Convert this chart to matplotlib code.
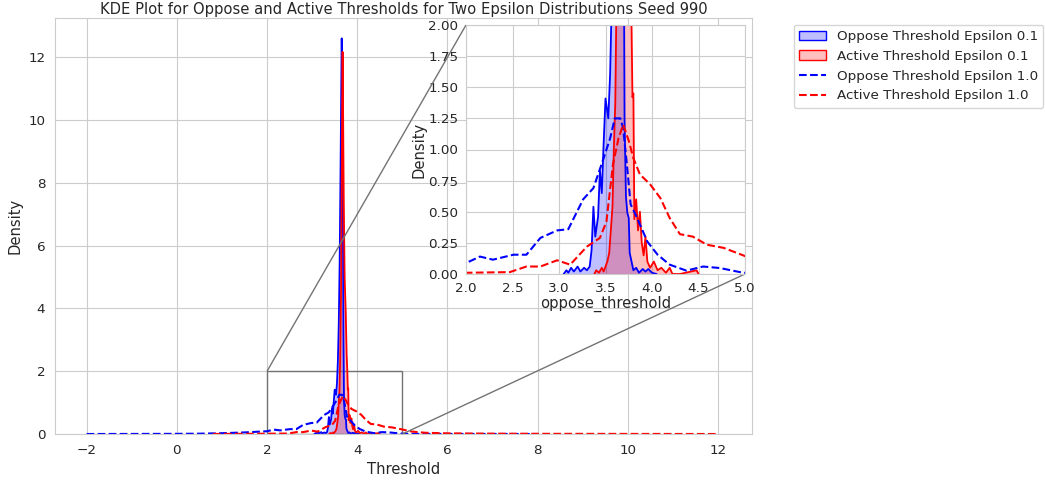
import matplotlib
matplotlib.use("Agg")
import matplotlib.pyplot as plt
import seaborn as sns
from matplotlib.patches import Patch
from matplotlib.lines import Line2D
from mpl_toolkits.axes_grid1.inset_locator import mark_inset

sns.set_style("whitegrid")
plt.rcParams['font.family'] = ['DejaVu Sans']

# ---- data ----
# Oppose threshold, epsilon 0.1 (solid, filled)
opp01_x = [3.05, 3.08, 3.10, 3.13, 3.16, 3.20, 3.23, 3.27, 3.30, 3.33, 3.35, 3.37,
           3.39, 3.42, 3.44, 3.46, 3.48, 3.50, 3.53, 3.55, 3.57, 3.59, 3.61, 3.63,
           3.645, 3.655, 3.665, 3.675, 3.685, 3.695, 3.705, 3.72, 3.735, 3.75,
           3.76, 3.78, 3.80, 3.83, 3.86, 3.90, 3.93, 3.96, 4.00, 4.05]
opp01_y = [0.0, 0.03, 0.01, 0.05, 0.02, 0.06, 0.02, 0.05, 0.03, 0.06, 0.19, 0.54,
           0.30, 0.46, 0.83, 0.65, 1.05, 1.41, 1.25, 1.61, 2.3, 3.5, 5.5, 8.5,
           11.0, 12.6, 11.5, 9.0, 6.0, 3.0, 1.24, 0.62, 0.49, 0.45, 0.17,
           0.10, 0.03, 0.05, 0.01, 0.04, 0.02, 0.04, 0.01, 0.0]

# Active threshold, epsilon 0.1 (solid, filled)
act01_x = [3.38, 3.40, 3.43, 3.46, 3.48, 3.50, 3.52, 3.54, 3.56, 3.575, 3.59, 3.605,
           3.62, 3.64, 3.655, 3.665, 3.675, 3.685, 3.70, 3.72, 3.745, 3.765, 3.78,
           3.79, 3.80, 3.81, 3.83, 3.85, 3.87, 3.89, 3.91, 3.93, 3.95, 3.98, 4.02,
           4.06, 4.10, 4.15, 4.19, 4.22, 4.30, 4.48, 4.50]
act01_y = [0.0, 0.03, 0.01, 0.05, 0.02, 0.06, 0.10, 0.17, 0.38, 0.54, 1.02, 1.37,
           2.3, 4.5, 8.0, 10.5, 12.17, 10.5, 7.5, 5.0, 3.85, 2.5, 2.0,
           1.42, 1.45, 0.44, 0.60, 0.35, 0.50, 0.25, 0.15, 0.30, 0.10, 0.05, 0.10,
           0.03, 0.05, 0.01, 0.05, 0.0, 0.0, 0.03, 0.0]

# Oppose threshold, epsilon 1.0 (dashed)
opp10_x = [-2.0, -1.0, 0.0, 0.5, 1.0, 1.5, 2.0, 2.15, 2.29, 2.51, 2.65, 2.80, 2.98,
           3.10, 3.26, 3.37, 3.48, 3.55, 3.60, 3.66, 3.69, 3.73, 3.77, 3.84, 3.95,
           4.06, 4.19, 4.37, 4.55, 4.73, 4.98, 5.3, 6.0, 7.0, 8.0]
opp10_y = [0.0, 0.002, 0.005, 0.01, 0.025, 0.05, 0.088, 0.14, 0.115, 0.155, 0.155,
           0.29, 0.35, 0.36, 0.60, 0.69, 0.93, 1.09, 1.25, 1.25, 1.17, 0.88, 0.56,
           0.45, 0.26, 0.155, 0.075, 0.027, 0.06, 0.048, 0.01, 0.005, 0.002, 0.001, 0.0]

# Active threshold, epsilon 1.0 (dashed)
act10_x = [0.8, 1.5, 2.0, 2.47, 2.65, 2.80, 2.98, 3.12, 3.30, 3.44, 3.51, 3.58, 3.64,
           3.69, 3.75, 3.80, 3.87, 3.98, 4.09, 4.19, 4.30, 4.44, 4.59, 4.77, 4.98,
           5.2, 5.5, 6.0, 7.0, 8.0, 10.0, 12.0]
act10_y = [0.0, 0.005, 0.01, 0.015, 0.06, 0.06, 0.11, 0.075, 0.22, 0.29, 0.42, 0.88,
           1.09, 1.20, 1.07, 0.93, 0.80, 0.72, 0.61, 0.45, 0.32, 0.30, 0.235, 0.21,
           0.15, 0.08, 0.04, 0.02, 0.01, 0.006, 0.003, 0.0]

labels = ["Oppose Threshold Epsilon 0.1", "Active Threshold Epsilon 0.1",
          "Oppose Threshold Epsilon 1.0", "Active Threshold Epsilon 1.0"]
title = "KDE Plot for Oppose and Active Thresholds for Two Epsilon Distributions Seed 990"

FS_LABEL = 10.6
FS_TICK = 9.7

fig = plt.figure(figsize=(10.45, 4.84), dpi=100)
ax = fig.add_axes([55/1045, 50/484, 697/1045, 416/484])


def draw(a):
    a.fill_between(opp01_x, opp01_y, color="blue", alpha=0.25, lw=0)
    a.plot(opp01_x, opp01_y, color="blue", lw=1.3)
    a.fill_between(act01_x, act01_y, color="red", alpha=0.25, lw=0)
    a.plot(act01_x, act01_y, color="red", lw=1.3)
    a.plot(opp10_x, opp10_y, color="blue", ls="--", lw=1.5)
    a.plot(act10_x, act10_y, color="red", ls="--", lw=1.5)


draw(ax)
ax.set_xlim(-2.7, 12.75)
ax.set_ylim(0, 13.25)
ax.set_xticks([-2, 0, 2, 4, 6, 8, 10, 12])
ax.set_yticks([0, 2, 4, 6, 8, 10, 12])
ax.set_xlabel("Threshold", fontsize=FS_LABEL)
ax.set_ylabel("Density", fontsize=FS_LABEL)
ax.set_title(title, fontsize=FS_LABEL, pad=3)
ax.tick_params(labelsize=FS_TICK)

axins = ax.inset_axes([411/697, 160/416, 279/697, 249/416])
draw(axins)
axins.set_xlim(2.0, 5.0)
axins.set_ylim(0, 2.0)
axins.set_xticks([2.0, 2.5, 3.0, 3.5, 4.0, 4.5, 5.0])
axins.set_yticks([0, 0.25, 0.5, 0.75, 1.0, 1.25, 1.5, 1.75, 2.0])
axins.set_xticklabels(["2.0", "2.5", "3.0", "3.5", "4.0", "4.5", "5.0"])
axins.set_yticklabels(["0.00", "0.25", "0.50", "0.75", "1.00", "1.25", "1.50", "1.75", "2.00"])
axins.set_xlabel("oppose_threshold", fontsize=FS_LABEL)
axins.set_ylabel("Density", fontsize=FS_LABEL)
axins.tick_params(labelsize=FS_TICK, pad=2)
axins.xaxis.labelpad = 1
axins.yaxis.labelpad = 1

mark_inset(ax, axins, loc1=2, loc2=4, fc="none", ec="0.45", lw=1.0)

handles = [Patch(facecolor=(0, 0, 1, 0.25), edgecolor="blue"),
           Patch(facecolor=(1, 0, 0, 0.25), edgecolor="red"),
           Line2D([0], [0], color="blue", ls="--", lw=1.5),
           Line2D([0], [0], color="red", ls="--", lw=1.5)]
ax.legend(handles, labels, loc="upper left", bbox_to_anchor=(1.05, 1), fontsize=FS_TICK)

fig.savefig("out.png", dpi=100)
